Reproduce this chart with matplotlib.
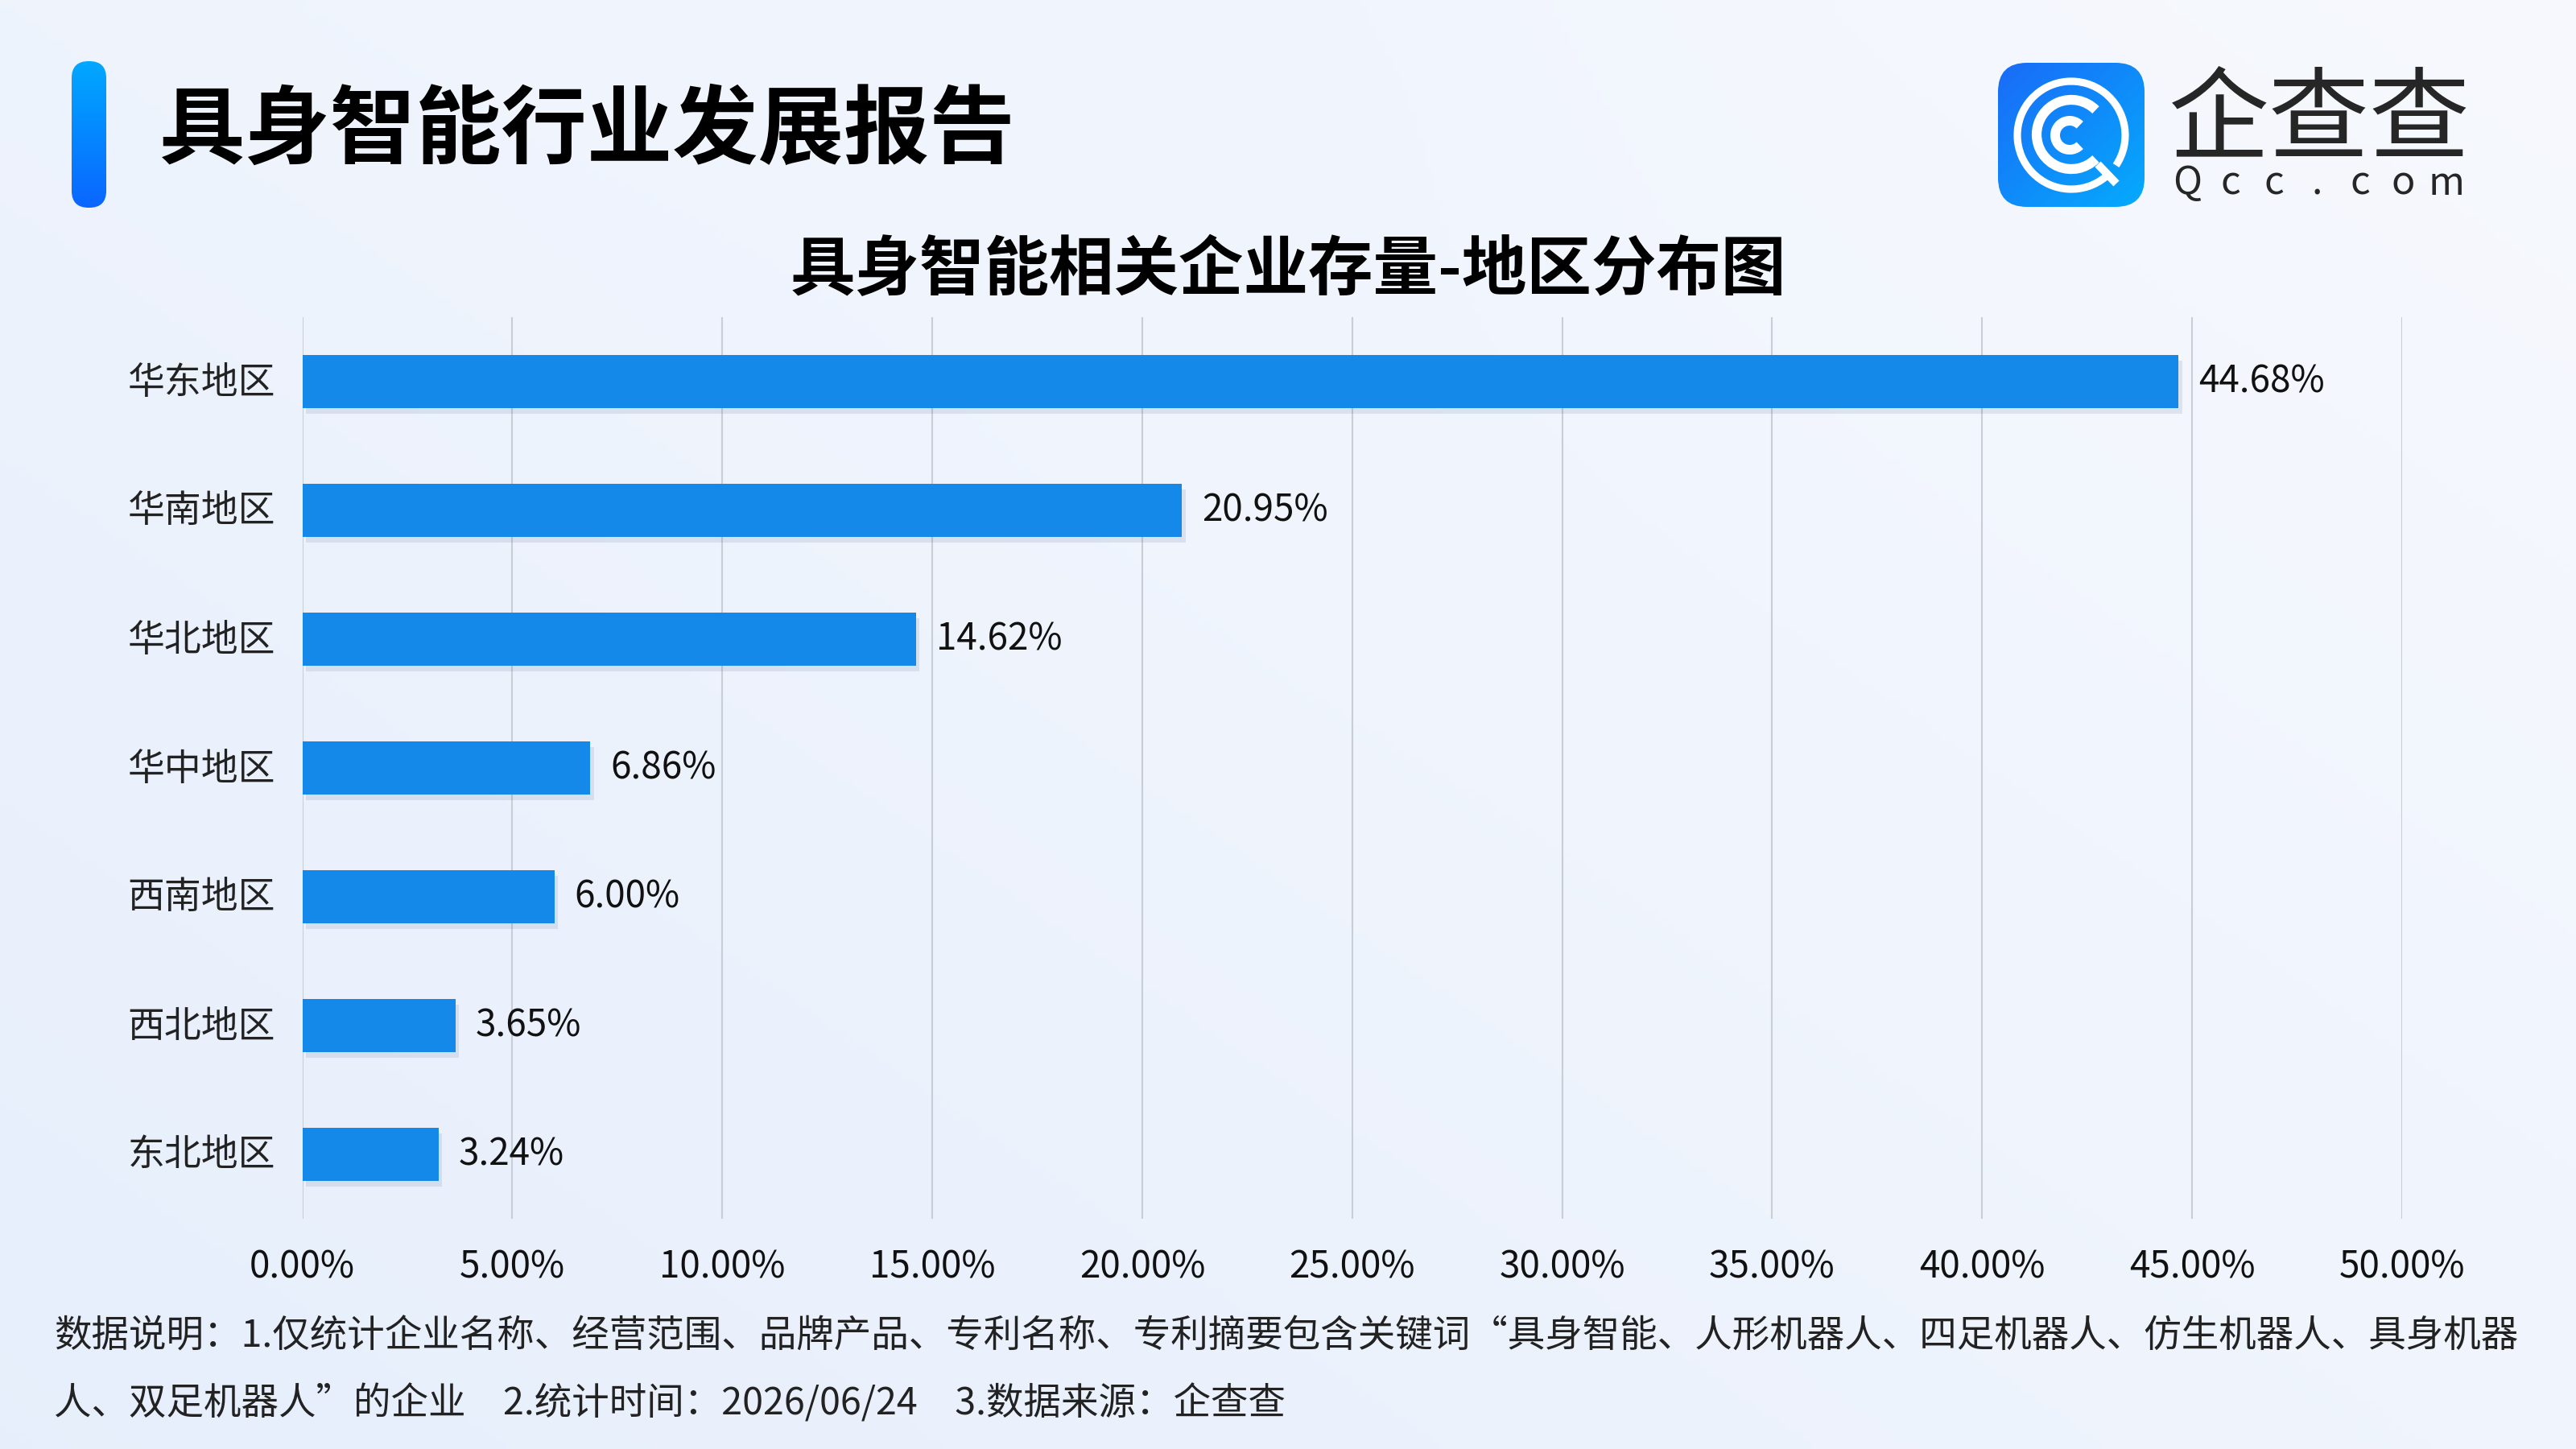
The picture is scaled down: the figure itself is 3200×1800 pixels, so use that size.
import numpy as np
import matplotlib
matplotlib.use("Agg")
import matplotlib.pyplot as plt
from matplotlib.patches import FancyBboxPatch, Arc
from matplotlib import patheffects as pe
from matplotlib.transforms import ScaledTranslation

plt.rcParams['font.family'] = ['Noto Sans CJK SC', 'DejaVu Sans']

# data
regions = ['华东地区', '华南地区', '华北地区', '华中地区', '西南地区', '西北地区', '东北地区']
shares = [44.68, 20.95, 14.62, 6.86, 6.00, 3.65, 3.24]
xticks = [0, 5, 10, 15, 20, 25, 30, 35, 40, 45, 50]

main_title = '具身智能行业发展报告'
chart_title = '具身智能相关企业存量-地区分布图'
note1 = '数据说明：1.仅统计企业名称、经营范围、品牌产品、专利名称、专利摘要包含关键词“具身智能、人形机器人、四足机器人、仿生机器人、具身机器'
note2 = '人、双足机器人”的企业\u30002.统计时间：2026/06/24\u30003.数据来源：企查查'

W, H = 3200, 1800
fig = plt.figure(figsize=(16, 9), dpi=200)

# background: soft light-blue gradient
bg = fig.add_axes([0, 0, 1, 1], zorder=0)
bg.axis('off')
gx, gy = np.meshgrid(np.linspace(0, 1, 320), np.linspace(0, 1, 180))
c0 = np.array([0.905, 0.937, 0.988])
c1 = np.array([0.968, 0.976, 0.996])
t = np.clip(0.55 * gx + 0.45 * (1 - gy), 0, 1)[..., None]
img = c0 * (1 - t) + c1 * t
glow = np.exp(-(((gx - 0.45) / 0.18) ** 2 + ((gy - 0.0) / 0.25) ** 2))[..., None]
img = img * (1 - 0.25 * glow) + np.array([0.92, 0.945, 1.0]) * 0.25 * glow
bg.imshow(img, extent=(0, 1, 0, 1), aspect='auto', origin='upper')
bg.set_xlim(0, 1)
bg.set_ylim(0, 1)

# left accent bar
acc = fig.add_axes([89 / W, 1 - 258 / H, 43 / W, 182 / H], zorder=2)
acc.axis('off')
acc.set_xlim(0, 43)
acc.set_ylim(0, 182)
grad = np.linspace(0, 1, 100)[:, None]
top_c = np.array([0.0, 0.66, 1.0])
bot_c = np.array([0.04, 0.40, 1.0])
acc_img = top_c * (1 - grad[..., None]) + bot_c * grad[..., None]
im = acc.imshow(acc_img, extent=(0, 43, 0, 182), aspect='auto')
clip = FancyBboxPatch((0, 0), 43, 182, boxstyle='round,pad=0,rounding_size=21',
                      transform=acc.transData, facecolor='none', edgecolor='none')
acc.add_patch(clip)
im.set_clip_path(clip)

fig.text(198 / W, 1 - 163 / H, main_title, fontsize=38.3, fontweight='heavy',
         color='#000000', ha='left', va='center')

# logo
lg = fig.add_axes([2482 / W, 1 - 257 / H, 182 / W, 179 / H], zorder=2)
lg.axis('off')
lg.set_xlim(0, 182)
lg.set_ylim(0, 179)
lx, ly = np.meshgrid(np.linspace(0, 1, 100), np.linspace(0, 1, 100))
lt = np.clip((lx + (1 - ly)) / 2, 0, 1)[..., None]
la = np.array([0.10, 0.42, 0.97])
lb = np.array([0.02, 0.67, 0.99])
limg = la * (1 - lt) + lb * lt
lim = lg.imshow(limg[::-1], extent=(0, 182, 0, 179), aspect='auto', origin='upper')
lclip = FancyBboxPatch((0, 0), 182, 179, boxstyle='round,pad=0,rounding_size=36',
                       transform=lg.transData, facecolor='none', edgecolor='none')
lg.add_patch(lclip)
lim.set_clip_path(lclip)
lg.add_patch(Arc((91, 89), 134, 134, theta1=-34, theta2=310, color='white', lw=3.3))
lg.plot([124, 147], [53, 29], color='white', lw=3.6, solid_capstyle='butt')
lg.add_patch(Arc((91, 90), 86, 86, theta1=45, theta2=315, color='white', lw=4.4))
lg.add_patch(Arc((89, 89), 36, 36, theta1=45, theta2=315, color='white', lw=4.3))

fig.text(2881 / W, 1 - 152 / H, '企查查', fontsize=45, color='#262626',
         ha='center', va='center')
for i, ch in enumerate('Qcc.com'):
    fig.text((2717 + i * 53.7) / W, 1 - 228 / H, ch, fontsize=17.5, fontweight='medium',
             color='#262626', ha='center', va='center')

fig.text(0.5, 1 - 337 / H, chart_title, fontsize=29, fontweight='bold',
         color='#000000', ha='center', va='center')

# bar chart
ax = fig.add_axes([375.5 / W, 1 - 1514 / H, (2984 - 375.5) / W, (1514 - 394) / H], zorder=3)
ax.patch.set_alpha(0)
ypos = np.arange(len(regions))
bars = ax.barh(ypos, shares, height=0.41, color='#1589ea', zorder=3)
for b in bars:
    b.set_path_effects([pe.SimplePatchShadow(offset=(1.5, -2.5), shadow_rgbFace='#3a5a90', alpha=0.12),
                        pe.Normal()])
for y, v in zip(ypos, shares):
    ax.annotate(f'{v:.2f}%', xy=(v, y), xytext=(9, 0), textcoords='offset points',
                ha='left', va='center', fontsize=16.5, color='#111111')

ax.set_xlim(0, 50)
ax.set_ylim(len(regions) - 0.5, -0.5)
ax.set_xticks(xticks)
ax.set_xticklabels([f'{x:.2f}%' for x in xticks])
ax.set_yticks(ypos)
ax.set_yticklabels(regions)
ax.tick_params(axis='x', length=0, pad=13, labelsize=16.5, labelcolor='#111111')
ax.tick_params(axis='y', length=0, pad=12, labelsize=16.5, labelcolor='#222222')
shift = ScaledTranslation(0, 4 / 200, fig.dpi_scale_trans)
for lab in ax.get_yticklabels():
    lab.set_transform(lab.get_transform() + shift)
ax.grid(axis='x', color='#c9cdd5', lw=0.75, zorder=0)
for s in ax.spines.values():
    s.set_visible(False)

fig.text(67 / W, 1 - 1660 / H, note1, fontsize=16.75, color='#222222', ha='left', va='center')
fig.text(67 / W, 1 - 1744 / H, note2, fontsize=16.75, color='#222222', ha='left', va='center')

fig.savefig('out.png', dpi=200)
